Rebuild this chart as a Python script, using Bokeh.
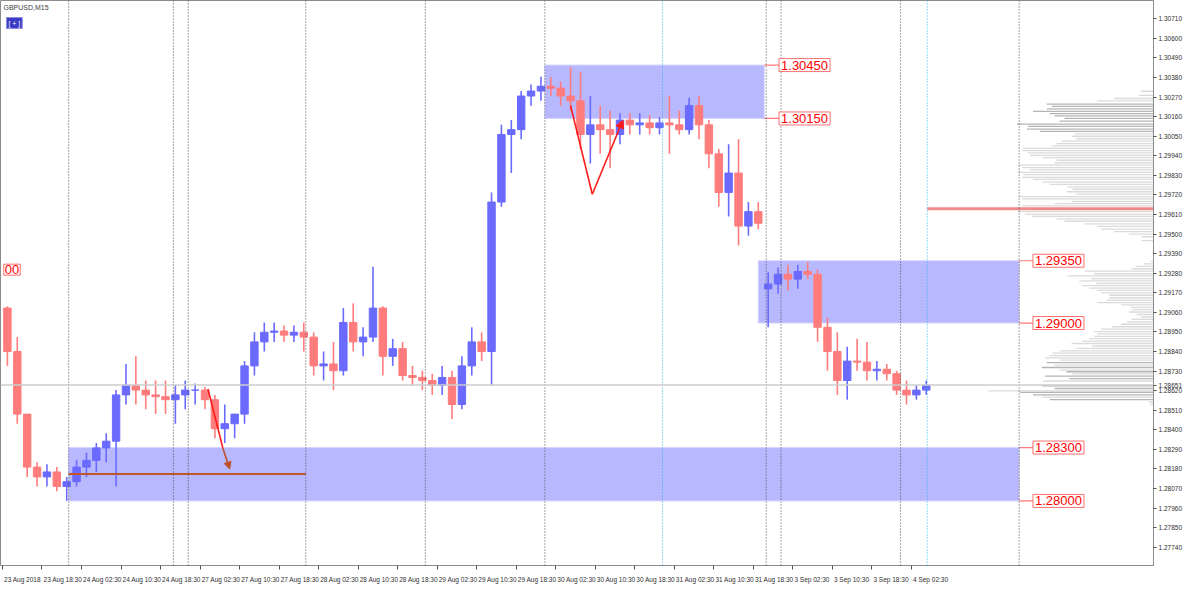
import numpy as np
from bokeh.plotting import figure
from bokeh.models import (ColumnDataSource, FixedTicker, Span, Label, Arrow, LinearAxis,
                          NormalHead, Range1d, PrintfTickFormatter)
from bokeh.embed import file_html
from bokeh.resources import INLINE

# ---------------- data (2-hour bars, x = trading hours since 23 Aug 10:30) ----------------
bar_open = [1.29084, 1.28840, 1.28488, 1.28190, 1.28135, 1.28163, 1.28081, 1.28108, 1.28190, 1.28228,
            1.28298, 1.28336, 1.28596, 1.28650, 1.28623, 1.28596, 1.28586, 1.28569, 1.28596, 1.28623,
            1.28623, 1.28569, 1.28406, 1.28434, 1.28488, 1.28759, 1.28894, 1.28948, 1.28955, 1.28932,
            1.28948, 1.28921, 1.28759, 1.28770, 1.28732, 1.29003, 1.28894, 1.28921, 1.29084, 1.28813,
            1.28856, 1.28705, 1.28694, 1.28677, 1.28650, 1.28694, 1.28542, 1.28759, 1.28894, 1.28840,
            1.29680, 1.30060, 1.30087, 1.30276, 1.30304, 1.30331, 1.30320, 1.30276, 1.30249, 1.30060,
            1.30114, 1.30087, 1.30060, 1.30141, 1.30114, 1.30125, 1.30098, 1.30125, 1.30114, 1.30087,
            1.30222, 1.30114, 1.29951, 1.29734, 1.29843, 1.29545, 1.29626, 1.29192, 1.29219, 1.29274,
            1.29247, 1.29290, 1.29274, 1.28976, 1.28840, 1.28677, 1.28786, 1.28780, 1.28732, 1.28740,
            1.28715, 1.28623, 1.28596, 1.28623]
bar_high = [1.29095, 1.28921, 1.28461, 1.28217, 1.28206, 1.28190, 1.28135, 1.28228, 1.28271, 1.28325,
            1.28380, 1.28623, 1.28770, 1.28813, 1.28677, 1.28677, 1.28677, 1.28650, 1.28677, 1.28660,
            1.28640, 1.28596, 1.28542, 1.28488, 1.28786, 1.28948, 1.29003, 1.29003, 1.28986, 1.28986,
            1.29003, 1.28948, 1.28840, 1.28894, 1.29084, 1.29111, 1.28976, 1.29317, 1.29095, 1.28911,
            1.28894, 1.28759, 1.28732, 1.28715, 1.28759, 1.28732, 1.28813, 1.28976, 1.28948, 1.29734,
            1.30114, 1.30141, 1.30304, 1.30341, 1.30385, 1.30385, 1.30358, 1.30439, 1.30412, 1.30276,
            1.30222, 1.30195, 1.30179, 1.30179, 1.30179, 1.30168, 1.30157, 1.30276, 1.30195, 1.30266,
            1.30276, 1.30141, 1.29978, 1.30005, 1.30033, 1.29680, 1.29680, 1.29285, 1.29312, 1.29328,
            1.29328, 1.29344, 1.29301, 1.29030, 1.28948, 1.28867, 1.28911, 1.28894, 1.28786, 1.28770,
            1.28732, 1.28677, 1.28650, 1.28677]
bar_low = [1.28759, 1.28434, 1.28135, 1.28081, 1.28081, 1.28054, 1.28000, 1.28081, 1.28135, 1.28163,
           1.28217, 1.28081, 1.28542, 1.28542, 1.28515, 1.28488, 1.28488, 1.28434, 1.28515, 1.28542,
           1.28515, 1.28352, 1.28325, 1.28352, 1.28434, 1.28705, 1.28840, 1.28894, 1.28894, 1.28894,
           1.28840, 1.28705, 1.28677, 1.28623, 1.28705, 1.28840, 1.28813, 1.28894, 1.28705, 1.28759,
           1.28677, 1.28650, 1.28623, 1.28596, 1.28596, 1.28461, 1.28515, 1.28705, 1.28786, 1.28650,
           1.29653, 1.29843, 1.30033, 1.30222, 1.30249, 1.30276, 1.30222, 1.30195, 1.29978, 1.29897,
           1.29951, 1.29870, 1.30005, 1.30060, 1.30060, 1.30060, 1.30060, 1.29951, 1.30060, 1.30060,
           1.30033, 1.29870, 1.29653, 1.29599, 1.29436, 1.29491, 1.29528, 1.28976, 1.29165, 1.29182,
           1.29192, 1.29247, 1.28894, 1.28732, 1.28596, 1.28569, 1.28732, 1.28677, 1.28677, 1.28677,
           1.28596, 1.28542, 1.28569, 1.28596]
bar_close = [1.28840, 1.28488, 1.28190, 1.28135, 1.28163, 1.28081, 1.28108, 1.28190, 1.28228, 1.28298,
             1.28336, 1.28596, 1.28650, 1.28623, 1.28596, 1.28586, 1.28569, 1.28596, 1.28623, 1.28623,
             1.28569, 1.28406, 1.28434, 1.28488, 1.28759, 1.28894, 1.28948, 1.28955, 1.28932, 1.28948,
             1.28921, 1.28759, 1.28770, 1.28732, 1.29003, 1.28894, 1.28921, 1.29084, 1.28813, 1.28856,
             1.28705, 1.28694, 1.28677, 1.28650, 1.28694, 1.28542, 1.28759, 1.28894, 1.28840, 1.29680,
             1.30060, 1.30087, 1.30276, 1.30304, 1.30331, 1.30320, 1.30276, 1.30249, 1.30060, 1.30114,
             1.30087, 1.30060, 1.30141, 1.30114, 1.30125, 1.30098, 1.30125, 1.30114, 1.30087, 1.30222,
             1.30114, 1.29951, 1.29734, 1.29843, 1.29545, 1.29626, 1.29561, 1.29219, 1.29274, 1.29247,
             1.29290, 1.29274, 1.28976, 1.28840, 1.28677, 1.28786, 1.28780, 1.28732, 1.28740, 1.28715,
             1.28623, 1.28596, 1.28623, 1.28651]

x_tick_hours = [0, 8, 16, 24, 32, 40, 48, 56, 64, 72, 80, 88, 96, 104, 112, 120, 128, 136, 144, 152,
                160, 168, 176, 184]
x_tick_labels = ["23 Aug 2018", "23 Aug 18:30", "24 Aug 02:30", "24 Aug 10:30", "24 Aug 18:30",
                 "27 Aug 02:30", "27 Aug 10:30", "27 Aug 18:30", "28 Aug 02:30", "28 Aug 10:30",
                 "28 Aug 18:30", "29 Aug 02:30", "29 Aug 10:30", "29 Aug 18:30", "30 Aug 02:30",
                 "30 Aug 10:30", "30 Aug 18:30", "31 Aug 02:30", "31 Aug 10:30", "31 Aug 18:30",
                 "3 Sep 02:30", "3 Sep 10:30", "3 Sep 18:30", "4 Sep 02:30"]
y_ticks = [1.27740, 1.27850, 1.27960, 1.28070, 1.28180, 1.28290, 1.28400, 1.28510, 1.28620, 1.28730,
           1.28840, 1.28950, 1.29060, 1.29170, 1.29280, 1.29390, 1.29500, 1.29610, 1.29720, 1.29830,
           1.29940, 1.30050, 1.30160, 1.30270, 1.30380, 1.30490, 1.30600, 1.30710]

# supply / demand zones
zone_start = [109.8, 153.0, 13.4]
zone_end = [154.2, 205.8, 205.8]
zone_top = [1.30450, 1.29350, 1.28300]
zone_bottom = [1.30150, 1.29000, 1.28000]
zone_label_x = [157.2, 208.6, 208.6]
cut_label_text = "00"
cut_label_price = 1.29300

# vertical separators (hours)
sep_gray = [13.4, 34.6, 37.6, 61.4, 85.6, 109.8, 154.6, 157.6, 181.8, 205.8]
sep_cyan = [133.6, 187.2]

# drawn objects
zigzag_x = [115.0, 119.4, 125.6]
zigzag_y = [1.30222, 1.29724, 1.30141]
down_x = [41.6, 44.6, 46.0]
down_y = [1.28629, 1.28298, 1.28179]
hline_x = [13.4, 61.4]
hline_price = 1.28152
bid_price = 1.28651
red_level_x = 187.2
red_level_price = 1.29642

# volume profile (price, length, shade)
prof_price = [1.30303, 1.30280, 1.30262, 1.30249, 1.30231, 1.30218, 1.30204, 1.30190, 1.30177, 1.30164,
              1.30150, 1.30135, 1.30118, 1.30105, 1.30090, 1.30077, 1.30063, 1.30050, 1.30036, 1.30023,
              1.30009, 1.29996, 1.29982, 1.29969, 1.29957, 1.29942, 1.29930, 1.29915, 1.29901, 1.29888,
              1.29874, 1.29861, 1.29847, 1.29834, 1.29819, 1.29807, 1.29792, 1.29779, 1.29765, 1.29752,
              1.29738, 1.29725, 1.29711, 1.29698, 1.29684, 1.29671, 1.29659, 1.29626, 1.29611, 1.29599,
              1.29586, 1.29572, 1.29557, 1.29543, 1.29528, 1.29514, 1.29500, 1.29485, 1.29463,
              1.29346, 1.29333, 1.29319, 1.29305, 1.29292, 1.29277, 1.29265, 1.29250, 1.29237, 1.29223,
              1.29210, 1.29196, 1.29183, 1.29169, 1.29156, 1.29142, 1.29129, 1.29115, 1.29102, 1.29088,
              1.29075, 1.29062, 1.29048, 1.29034, 1.29021, 1.29006, 1.28993, 1.28979, 1.28966, 1.28952,
              1.28939, 1.28925, 1.28912, 1.28898, 1.28885, 1.28871, 1.28858, 1.28844, 1.28831, 1.28817,
              1.28804, 1.28791, 1.28777, 1.28763, 1.28750, 1.28735, 1.28726, 1.28714, 1.28701, 1.28687,
              1.28674, 1.28647, 1.28632, 1.28619, 1.28610, 1.28596, 1.28584, 1.28569, 1.28555, 1.28542]
prof_volume = [13, 15, 40, 57, 108, 103, 108, 122, 105, 100, 90, 95, 138, 127, 128, 115, 80, 83, 78, 93,
               98, 103, 132, 133, 127, 125, 112, 98, 100, 137, 133, 125, 137, 132, 133, 122, 113, 105, 87, 82,
               88, 78, 137, 133, 83, 100, 133, 137, 130, 123, 98, 90, 70, 57, 53, 40, 25, 12, 12,
               3, 10, 18, 22, 70, 60, 87, 63, 75, 58, 72, 65, 57, 53, 45, 45, 47, 57, 33, 23,
               22, 25, 17, 13, 22, 27, 33, 42, 53, 60, 57, 60, 65, 72, 83, 62, 78, 95, 102, 105,
               110, 95, 108, 100, 113, 95, 88, 82, 110, 85, 112, 113, 100, 167, 135, 122, 112, 105, 5, 3]
prof_dark = [0, 0, 0, 0, 1, 1, 1, 1, 1, 1, 1, 1, 1, 1, 1, 1, 0, 0, 0, 0,
             0, 0, 0, 0, 0, 0, 0, 0, 0, 0, 0, 0, 0, 0, 0, 0, 0, 0, 0, 0,
             0, 0, 0, 0, 0, 0, 0, 0, 0, 0, 0, 0, 0, 0, 0, 0, 0, 0, 0,
             0, 0, 0, 0, 0, 0, 0, 0, 0, 0, 0, 0, 0, 0, 0, 0, 0, 0, 0, 0,
             0, 0, 0, 0, 0, 0, 0, 0, 0, 0, 0, 0, 0, 0, 0, 0, 0, 0, 0, 0,
             0, 0, 1, 0, 1, 0, 1, 0, 1, 1, 0, 1, 1, 0, 1, 1, 0, 1, 0, 0]

# ---------------- figure ----------------
X0, X1 = -0.4, 233.0
Y0, Y1 = 1.27637, 1.30813
FONT = "Liberation Sans"
BULL, BEAR = "#6a6aff", "#ff7c7c"
LABEL_PX = 6.5

p = figure(width=1184, height=585, output_backend="svg", toolbar_location=None,
           x_range=Range1d(X0, X1), y_range=Range1d(Y0, Y1), y_axis_location="right",
           min_border_left=0, min_border_top=0, min_border_right=2, min_border_bottom=0)
p.grid.visible = False
p.outline_line_color = "#8c8c8c"
p.background_fill_color = "white"
p.border_fill_color = "white"

# x axis 1: tick marks only
p.xaxis.ticker = FixedTicker(ticks=x_tick_hours)
p.xaxis.major_label_overrides = {h: "" for h in x_tick_hours}
p.xaxis.major_label_text_font_size = "1px"
p.xaxis.major_label_standoff = 0
p.xaxis.major_tick_in = 0
p.xaxis.major_tick_out = 4
p.xaxis.minor_tick_line_color = None
p.xaxis.axis_line_color = "#8c8c8c"
p.xaxis.major_tick_line_color = "#505050"


# x axis 2: labels, each shifted so that it starts at its tick mark
def _text_width(s, size):
    w = 0.0
    for ch in s:
        if ch.isdigit() or ch in "ugep":
            w += 0.556
        elif ch in " :":
            w += 0.278
        else:
            w += 0.667
    return w * size


px_per_hour = 1150.0 / (X1 - X0)
label_pos = [round(h + (_text_width(s, LABEL_PX) / 2 + 1.5) / px_per_hour, 3)
             for h, s in zip(x_tick_hours, x_tick_labels)]
xlab_axis = LinearAxis(ticker=FixedTicker(ticks=label_pos),
                       major_label_overrides={pos: s for pos, s in zip(label_pos, x_tick_labels)},
                       axis_line_color=None, major_tick_line_color=None,
                       minor_tick_line_color=None, major_label_standoff=0,
                       major_label_text_font=FONT, major_label_text_font_size=f"{LABEL_PX}px",
                       major_label_text_color="#303030")
p.add_layout(xlab_axis, "below")

# y axis (plus the current bid price)
p.yaxis.ticker = FixedTicker(ticks=y_ticks + [bid_price])
p.yaxis.formatter = PrintfTickFormatter(format="%.5f")
p.yaxis.major_label_text_font = FONT
p.yaxis.major_label_text_font_size = f"{LABEL_PX}px"
p.yaxis.major_label_text_color = "#303030"
p.yaxis.major_label_standoff = 2
p.yaxis.major_tick_in = 0
p.yaxis.major_tick_out = 3
p.yaxis.minor_tick_line_color = None
p.yaxis.axis_line_color = "#8c8c8c"
p.yaxis.major_tick_line_color = "#505050"

# zones (behind candles)
p.quad(left=zone_start, right=zone_end, top=zone_top, bottom=zone_bottom,
       fill_color="#b8b8ff", line_color="#d4d4ff", line_width=1)

# volume profile
prof_len = np.array(prof_volume) / 5.0
prof_src = ColumnDataSource(dict(
    y=prof_price, x0=X1 - prof_len, x1=[X1] * len(prof_price),
    c=["#b4b4b4" if d else "#dadada" for d in prof_dark]))
p.segment(x0="x0", y0="y", x1="x1", y1="y", color="c", line_width=1.3, source=prof_src)

# separators
for h in sep_gray:
    p.add_layout(Span(location=h, dimension="height", line_color="#4a4a4a",
                      line_dash="1 2", line_width=1))
for h in sep_cyan:
    p.add_layout(Span(location=h, dimension="height", line_color="#22b4ee",
                      line_dash="1 2", line_width=1))

# bid line
p.add_layout(Span(location=bid_price, dimension="width", line_color="#cccccc", line_width=1.5))

# red level on the right
p.segment(x0=[red_level_x], y0=[red_level_price], x1=[X1], y1=[red_level_price],
          color="#f08a8a", line_width=3)

# candles
o = np.array(bar_open); h_ = np.array(bar_high); l_ = np.array(bar_low); c = np.array(bar_close)
t = np.arange(len(o)) * 2 + 1
cols = [BULL if cc >= oo else BEAR for oo, cc in zip(o, c)]
src = ColumnDataSource(dict(t=t, o=o, h=h_, l=l_, c=c, top=np.maximum(o, c),
                            bot=np.minimum(o, c), col=cols))
p.segment(x0="t", y0="h", x1="t", y1="l", color="col", line_width=1.6, source=src)
p.vbar(x="t", width=1.5, top="top", bottom="bot", fill_color="col", line_color="col", source=src)

# zigzag (red) with arrow
p.line(zigzag_x[:2], zigzag_y[:2], color="#ff1a1a", line_width=1.6)
p.add_layout(Arrow(end=NormalHead(size=8, fill_color="#ff1a1a", line_color="#ff1a1a"),
                   x_start=zigzag_x[1], y_start=zigzag_y[1], x_end=zigzag_x[2], y_end=zigzag_y[2],
                   line_color="#ff1a1a", line_width=1.6))

# down move with arrow
p.line(down_x[:2], down_y[:2], color="#ff1a1a", line_width=1.6)
p.add_layout(Arrow(end=NormalHead(size=7, fill_color="#c0502a", line_color="#c0502a"),
                   x_start=down_x[1], y_start=down_y[1], x_end=down_x[2], y_end=down_y[2],
                   line_color="#c0502a", line_width=1.6))
p.segment(x0=[hline_x[0]], y0=[hline_price], x1=[hline_x[1]], y1=[hline_price],
          color="#c0582e", line_width=2)

# zone price labels with connectors
for i in range(len(zone_top)):
    for price in (zone_top[i], zone_bottom[i]):
        p.segment(x0=[zone_end[i]], y0=[price], x1=[zone_label_x[i]], y1=[price],
                  color="#ff7a7a", line_width=1.2)
        p.add_layout(Label(x=zone_label_x[i], y=price, text=f"{price:.5f}",
                           text_font=FONT, text_font_size="13px", text_color="#ff0000",
                           text_baseline="middle", text_align="left",
                           background_fill_color="white", border_line_color="#ff7070",
                           border_line_width=1, padding=2))
p.add_layout(Label(x=3.6, y=cut_label_price, text=cut_label_text,
                   text_font=FONT, text_font_size="13px", text_color="#ff0000",
                   text_baseline="middle", text_align="right",
                   background_fill_color="white", border_line_color="#ff7070",
                   border_line_width=1, padding=1))

# title and button
p.add_layout(Label(x=0.2, y=Y1, y_offset=-3, text="GBPUSD,M15", text_font=FONT,
                   text_font_size="7px", text_color="#404040", text_baseline="top"))
p.add_layout(Label(x=0.8, y=Y1, y_offset=-17, text="[ + ]", text_font=FONT,
                   text_font_size="7px", text_color="white", text_baseline="top",
                   background_fill_color="#3a3ac4", border_line_color="#9090e0", padding=2))

open("out.html", "w").write(file_html(p, INLINE))
